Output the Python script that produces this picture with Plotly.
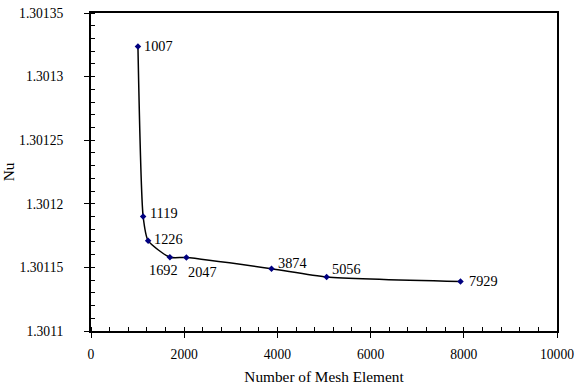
import plotly.graph_objects as go

mesh = [1007, 1119, 1226, 1692, 2047, 3874, 5056, 7929]
nu = [1.3013237, 1.3011900, 1.3011710, 1.3011580, 1.3011578, 1.3011490, 1.3011425, 1.3011390]
labels = [str(m) for m in mesh]
x_ticks = [0, 2000, 4000, 6000, 8000, 10000]
x_ticktext = ["0", "2000", "4000", "6000", "8000", "10000"]
y_ticks = [1.3011, 1.30115, 1.3012, 1.30125, 1.3013, 1.30135]
y_ticktext = ["1.3011", "1.30115", "1.3012", "1.30125", "1.3013", "1.30135"]

# label placement (style only)
lab_xanchor = ["left", "left", "left", "center", "left", "left", "left", "left"]
lab_xshift = [4, 5, 4, -6, 0, 4, 3, 7]
lab_yshift = [0, 4, 2, -13, -15, 6, 8, 0]

fig = go.Figure()
fig.add_trace(go.Scatter(
    x=mesh, y=nu, mode="lines+markers",
    line=dict(color="black", width=1.5, shape="spline", smoothing=0.6),
    marker=dict(symbol="diamond", size=5, color="#000080"),
    showlegend=False, hoverinfo="skip",
))

font = dict(family="Liberation Serif", size=13.6, color="black")
lab_font = dict(family="Liberation Serif", size=14.3, color="black")
title_font = dict(family="Liberation Serif", size=15.3, color="black")

for xv, yv, t, xa, xs, ys in zip(mesh, nu, labels, lab_xanchor, lab_xshift, lab_yshift):
    fig.add_annotation(x=xv, y=yv, text=t, showarrow=False, xanchor=xa, yanchor="middle",
                       xshift=xs, yshift=ys, font=lab_font)

fig.update_layout(
    width=582, height=390,
    margin=dict(l=91, r=25, t=13, b=59),
    paper_bgcolor="white", plot_bgcolor="white",
    font=font,
    xaxis=dict(
        range=[0, 10000], tickvals=x_ticks, ticktext=x_ticktext, automargin=False,
        showgrid=False, zeroline=False, showline=True, linecolor="black", linewidth=2,
        mirror=True, ticks="outside", ticklen=5, tickwidth=1, tickcolor="black",
        ticklabelstandoff=5, ticklabeloverflow="allow",
        minor=dict(dtick=400, ticks="inside", ticklen=4, tickwidth=1, tickcolor="black", showgrid=False),
        title=dict(text="Number of Mesh Element", font=title_font, standoff=10),
        tickfont=font,
    ),
    yaxis=dict(
        range=[1.3011, 1.30135], tickvals=y_ticks, ticktext=y_ticktext, automargin=False,
        showgrid=False, zeroline=False, showline=True, linecolor="black", linewidth=2,
        mirror=True, ticks="outside", ticklen=5, tickwidth=1, tickcolor="black",
        ticklabelstandoff=18, ticklabeloverflow="allow",
        minor=dict(dtick=0.00001, ticks="inside", ticklen=4, tickwidth=1, tickcolor="black", showgrid=False),
        title=dict(text="Nu", font=title_font, standoff=6),
        tickfont=font,
    ),
)

fig.write_html("out.html", config={"displayModeBar": False},
               post_script="document.body.style.margin='0';")
